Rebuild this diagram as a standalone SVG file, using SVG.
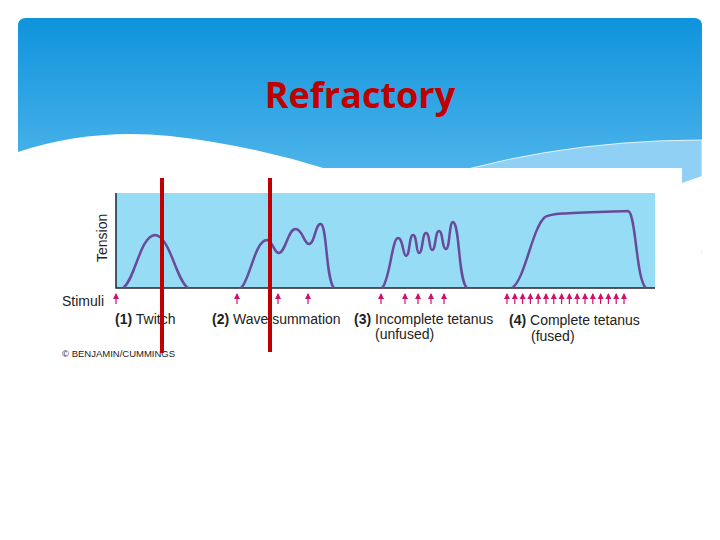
<svg xmlns="http://www.w3.org/2000/svg" width="720" height="540" viewBox="0 0 720 540">
<defs>
<linearGradient id="hg" x1="0" y1="0" x2="0" y2="1"><stop offset="0" stop-color="#0e93dc"/><stop offset="1" stop-color="#6cc4f2"/></linearGradient>
<marker id="ar" markerWidth="6" markerHeight="6" refX="3" refY="0" orient="0" markerUnits="userSpaceOnUse" overflow="visible"><path d="M0,5 L3,-1 L6,5 Z" fill="#d0106a"/></marker>
</defs>
<style>
.t{font-family:"Liberation Sans",Arial,sans-serif;font-size:14px;fill:#222}
.b{font-weight:bold}
.c{fill:none;stroke:#6a4a9a;stroke-width:2.5;stroke-linejoin:round}
.s{stroke:#d0106a;stroke-width:1.2;marker-start:url(#ar)}
.r{stroke:#c00000;stroke-width:4}
</style>
<rect width="720" height="540" fill="#fff"/>
<g id="header">
<path d="M26,18 H694 Q702,18 702,26 V246 H18 V26 Q18,18 26,18 Z" fill="url(#hg)"/>
<path d="M200,190 Q330,160 460,175 Q600,195 702,190 V260 H200 Z" fill="#9fd8f6"/>
<path d="M400,190 Q540,140 702,140 V200 H400 Z" fill="#8fd0f4" stroke="#fff" stroke-width="0.8"/>
<path d="M18,152 Q90,128 170,136 Q250,145 330,170 Q460,205 700,182 L702,260 H18 Z" fill="#fff"/>
<rect x="18" y="168" width="664" height="372" fill="#fff"/>
<path d="M682,183 L702,176 V250 L682,250 Z" fill="#fff"/>
<text x="360" y="108" text-anchor="middle" font-family="'Open Sans','Liberation Sans',sans-serif" font-weight="bold" font-size="36" fill="#c00000">Refractory</text>
</g>
<g id="chart">
<rect x="116" y="193" width="539" height="95" fill="#96dcf5"/>
<path d="M116,193 V288 H655" fill="none" stroke="#223" stroke-width="1.5"/>
<text class="t" transform="translate(107,262) rotate(-90)">Tension</text>
<path class="c" d="M123,288 C135,280 140,236 155,235 C170,236 176,280 188,288"/>
<path class="c" d="M241,288 C250,280 255,240 267,240 C273,241 274,253 279,253 C286,252 288,228 296,229 C303,230 304,244 309,244 C315,244 315,223 321,224 C327,226 326,280 334,288"/>
<path class="c" d="M382,288 C390,280 392,238 398,238 C403,238 403,256 406,256 C410,256 409,235 413,235 C417,235 416,253 419,253 C423,253 422,233 426,233 C430,233 429,250 432,250 C436,250 435,231 439,231 C443,231 442,249 446,249 C450,249 449,222 453,222 C460,224 458,280 467,288"/>
<path class="c" d="M512,288 C525,280 532,228 545,217 C552,213 570,213 628,211 C636,212 636,280 646,288"/>
<g>
<line class="s" x1="116" y1="294" x2="116" y2="304"/>
<line class="s" x1="237" y1="294" x2="237" y2="304"/>
<line class="s" x1="278" y1="294" x2="278" y2="304"/>
<line class="s" x1="308" y1="294" x2="308" y2="304"/>
<line class="s" x1="381" y1="294" x2="381" y2="304"/>
<line class="s" x1="405" y1="294" x2="405" y2="304"/>
<line class="s" x1="418" y1="294" x2="418" y2="304"/>
<line class="s" x1="431" y1="294" x2="431" y2="304"/>
<line class="s" x1="444" y1="294" x2="444" y2="304"/>
<line class="s" x1="507" y1="294" x2="507" y2="304"/>
<line class="s" x1="514.8" y1="294" x2="514.8" y2="304"/>
<line class="s" x1="522.6" y1="294" x2="522.6" y2="304"/>
<line class="s" x1="530.4" y1="294" x2="530.4" y2="304"/>
<line class="s" x1="538.2" y1="294" x2="538.2" y2="304"/>
<line class="s" x1="546" y1="294" x2="546" y2="304"/>
<line class="s" x1="553.8" y1="294" x2="553.8" y2="304"/>
<line class="s" x1="561.6" y1="294" x2="561.6" y2="304"/>
<line class="s" x1="569.4" y1="294" x2="569.4" y2="304"/>
<line class="s" x1="577.2" y1="294" x2="577.2" y2="304"/>
<line class="s" x1="585" y1="294" x2="585" y2="304"/>
<line class="s" x1="592.8" y1="294" x2="592.8" y2="304"/>
<line class="s" x1="600.6" y1="294" x2="600.6" y2="304"/>
<line class="s" x1="608.4" y1="294" x2="608.4" y2="304"/>
<line class="s" x1="616.2" y1="294" x2="616.2" y2="304"/>
<line class="s" x1="624" y1="294" x2="624" y2="304"/>
</g>
<text class="t" x="62" y="306">Stimuli</text>
<text class="t" x="115" y="324"><tspan class="b">(1)</tspan> Twitch</text>
<text class="t" x="212" y="324"><tspan class="b">(2)</tspan> Wave summation</text>
<text class="t" x="354" y="324"><tspan class="b">(3)</tspan> Incomplete tetanus</text>
<text class="t" x="375" y="339">(unfused)</text>
<text class="t" x="509" y="325"><tspan class="b">(4)</tspan> Complete tetanus</text>
<text class="t" x="531" y="341">(fused)</text>
<text class="t" x="62" y="357" style="font-size:9.5px">© BENJAMIN/CUMMINGS</text>
</g>
<g id="markers">
<line class="r" x1="162" y1="178" x2="162" y2="353"/>
<line class="r" x1="270" y1="178" x2="270" y2="352"/>
</g>
</svg>
